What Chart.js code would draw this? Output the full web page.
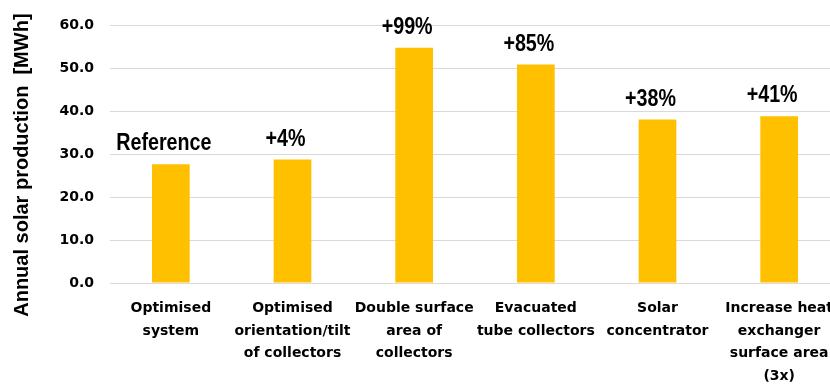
<!DOCTYPE html>
<html>
<head>
<meta charset="utf-8">
<script src="https://cdn.jsdelivr.net/npm/chart.js@4"></script>
<style>
  html, body { margin: 0; padding: 0; background: #fff; overflow: hidden; }
  #wrap { width: 830px; height: 387px; overflow: hidden; }
</style>
</head>
<body>
<div id="wrap"><canvas id="solarChart" width="840" height="387"></canvas></div>
<script>
var categories = [
  ['Optimised', 'system'],
  ['Optimised', 'orientation/tilt', 'of collectors'],
  ['Double surface', 'area of', 'collectors'],
  ['Evacuated', 'tube collectors'],
  ['Solar', 'concentrator'],
  ['Increase heat', 'exchanger', 'surface area', '(3x)']
];
var production = [27.6, 28.7, 54.7, 50.8, 38.0, 38.8];
var barNotes = ['Reference', '+4%', '+99%', '+85%', '+38%', '+41%'];
var yTicks = [0, 10, 20, 30, 40, 50, 60];

(function () {
  var el = document.getElementById('solarChart');
  if (!el || !window.Chart) return;

  var gridGray = '#d9d9d9';

  // the "+xx%" notes above the bars, narrow bold like the original
  var notesPlugin = {
    id: 'barNotes',
    afterDatasetsDraw: function (chart) {
      var ctx = chart.ctx;
      var meta = chart.getDatasetMeta(0);
      meta.data.forEach(function (bar, i) {
        ctx.save();
        ctx.translate(bar.x - 7, bar.y - 14);
        ctx.scale(0.82, 1);
        ctx.font = 'bold 24px "Liberation Sans", Arial, sans-serif';
        ctx.fillStyle = '#000';
        ctx.textAlign = 'center';
        ctx.textBaseline = 'alphabetic';
        ctx.fillText(barNotes[i], 0, 0);
        ctx.restore();
      });
    }
  };

  new Chart(el, {
    type: 'bar',
    data: {
      labels: categories,
      datasets: [{
        data: production,
        backgroundColor: '#FFC000',
        borderWidth: 0,
        barPercentage: 0.31,
        categoryPercentage: 1
      }]
    },
    options: {
      responsive: false,
      animation: false,
      layout: { padding: { top: 25, right: 0, bottom: 0, left: 0 } },
      plugins: {
        legend: { display: false },
        tooltip: { enabled: false }
      },
      scales: {
        x: {
          grid: { display: false },
          border: { display: false },
          ticks: {
            color: '#000',
            padding: 6,
            maxRotation: 0,
            autoSkip: false,
            font: { family: '"DejaVu Sans", Verdana, sans-serif', size: 14, weight: 'bold', lineHeight: 1.62 }
          },
          afterFit: function (scale) { scale.height = 104; }
        },
        y: {
          min: 0,
          max: 60,
          afterBuildTicks: function (scale) {
            scale.ticks = yTicks.map(function (v) { return { value: v }; });
          },
          grid: { color: gridGray, lineWidth: 1, drawTicks: false },
          border: { display: false },
          ticks: {
            color: '#000',
            padding: 16,
            font: { family: '"DejaVu Sans", Verdana, sans-serif', size: 14, weight: 'bold' },
            callback: function (v) { return Number(v).toFixed(1); }
          },
          title: {
            display: true,
            text: 'Annual solar production  [MWh]    ',
            color: '#000',
            padding: { top: 10, bottom: 0 },
            font: { family: '"Liberation Sans", Arial, sans-serif', size: 20, weight: 'bold', lineHeight: 1.2 }
          },
          afterFit: function (scale) { scale.width = 110; }
        }
      }
    },
    plugins: [notesPlugin]
  });
})();
</script>
</body>
</html>
